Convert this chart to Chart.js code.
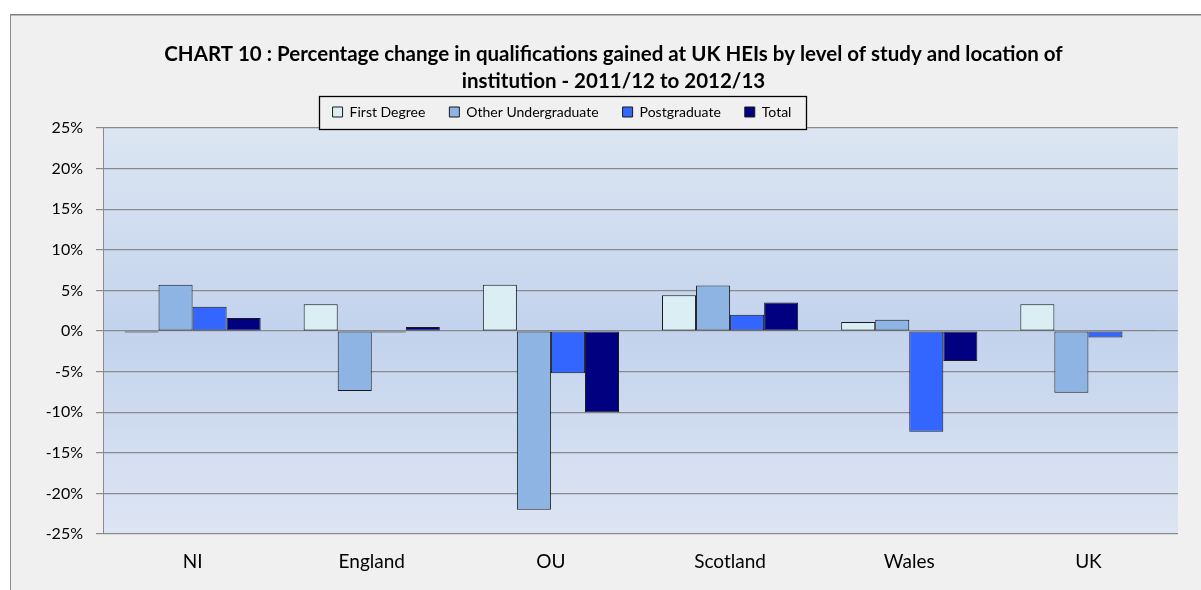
<!DOCTYPE html>
<html>
<head>
<meta charset="utf-8">
<script src="https://cdn.jsdelivr.net/npm/chart.js@4"></script>
<style>
  body { margin: 0; background: #fff; overflow: hidden; }
  #frame {
    position: absolute; left: 10px; top: 14px;
    width: 1200px; height: 590px;
    background: #f0f0f0;
    border-left: 1px solid #8c8c8c;
    border-top: 1px solid #7f7f7f;
    box-shadow: inset 0 1px 0 #b8b8b8;
  }
  canvas { display: block; }
</style>
</head>
<body>
<div id="frame"><canvas id="barChart" width="1190" height="575"></canvas></div>
<script>
const locations = ['NI', 'England', 'OU', 'Scotland', 'Wales', 'UK'];
const firstDegree = [-0.2, 3.3, 5.7, 4.4, 1.1, 3.3];
const otherUndergraduate = [5.7, -7.4, -22.0, 5.6, 1.4, -7.6];
const postgraduate = [3.0, -0.2, -5.2, 2.0, -12.4, -0.8];
const total = [1.6, 0.5, -10.0, 3.5, -3.7, 0.1];

const FONT = 'Lato, "Noto Sans", sans-serif';

// plot background gradient + legend box frame
const chartDecor = {
    id: 'chartDecor',
    beforeDraw(chart) {
        const { ctx, chartArea: a } = chart;
        const g = ctx.createLinearGradient(0, a.top, 0, a.bottom);
        g.addColorStop(0, '#dce6f2');
        g.addColorStop(0.5, '#c3d3ed');
        g.addColorStop(1, '#dde5f3');
        ctx.save();
        ctx.fillStyle = g;
        ctx.fillRect(a.left, a.top, a.right - a.left, a.bottom - a.top);
        ctx.restore();
    },
    afterLayout(chart) {
        // legend sits left of centre in the original, inside a framed box
        const lg = chart.legend;
        lg.left = 551 - 320;
        lg.right = 551 + 320;
        lg.width = 640;
        lg.top += 1;
        lg.bottom += 1;
        // title is centred on the whole frame, not the padded area
        const t = chart.titleBlock;
        t.left += 19;
        t.right += 19;
        t.top += 1.5;
        t.bottom += 1.5;
    },
    afterDraw(chart) {
        const ctx = chart.ctx;
        ctx.save();
        ctx.fillStyle = '#f0f0f0';
        ctx.fillRect(308, 81, 487, 33);
        ctx.strokeStyle = '#000';
        ctx.lineWidth = 1.3;
        ctx.strokeRect(308.5, 81.5, 487, 33);
        ctx.restore();
        chart.legend.draw();
    }
};

const makeDataset = (label, data, color) => ({
    label: label,
    data: data,
    backgroundColor: color,
    borderColor: '#1a1a1a',
    borderWidth: 1,
    borderSkipped: false
});

new Chart(document.getElementById('barChart'), {
    type: 'bar',
    data: {
        labels: locations,
        datasets: [
            makeDataset('First Degree', firstDegree, '#daeef3'),
            makeDataset('Other Undergraduate', otherUndergraduate, '#8db4e2'),
            makeDataset('Postgraduate', postgraduate, '#3366ff'),
            makeDataset('Total', total, '#000080')
        ]
    },
    options: {
        responsive: false,
        animation: false,
        layout: { padding: { left: 0, right: 23, top: 0, bottom: 0 } },
        datasets: { bar: { categoryPercentage: 0.76, barPercentage: 1.0 } },
        plugins: {
            title: {
                display: true,
                text: ['CHART 10 : Percentage change in qualifications gained at UK HEIs by level of study and location of',
                       'institution - 2011/12 to 2012/13'],
                color: '#000',
                font: { family: FONT, size: 20.5, weight: 'bold', lineHeight: 1.317 },
                padding: { top: 24.5, bottom: -13.5 }
            },
            legend: {
                position: 'top',
                labels: {
                    color: '#000',
                    font: { family: FONT, size: 14 },
                    boxWidth: 10,
                    boxHeight: 10,
                    padding: 24
                }
            },
            tooltip: { enabled: false }
        },
        scales: {
            x: {
                grid: { display: false, drawTicks: false },
                border: { display: false },
                ticks: { color: '#000', font: { family: FONT, size: 19 }, padding: 16 },
                afterFit: (scale) => { scale.height = 56; }
            },
            y: {
                min: -25,
                max: 25,
                grid: { color: '#8a8a8a', lineWidth: 1.2, tickLength: 7 },
                border: { color: '#8a8a8a' },
                ticks: {
                    stepSize: 5,
                    color: '#000',
                    padding: 13,
                    font: { family: FONT, size: 16 },
                    callback: (v) => v + '%'
                },
                afterFit: (scale) => { scale.width = 92; }
            }
        }
    },
    plugins: [chartDecor]
});
</script>
</body>
</html>
